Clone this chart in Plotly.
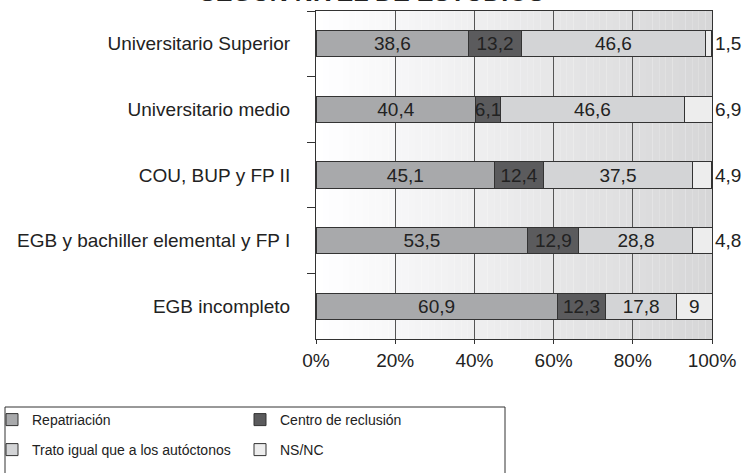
import plotly.graph_objects as go

categories = ["Universitario Superior", "Universitario medio", "COU, BUP y FP II",
              "EGB y bachiller elemental y FP I", "EGB incompleto"]
repatriacion = [38.6, 40.4, 45.1, 53.5, 60.9]
centro = [13.2, 6.1, 12.4, 12.9, 12.3]
trato = [46.6, 46.6, 37.5, 28.8, 17.8]
nsnc = [1.5, 6.9, 4.9, 4.8, 9]
x_ticks = [0, 20, 40, 60, 80, 100]
x_ticklabels = ["0%", "20%", "40%", "60%", "80%", "100%"]
title_text = "SEGÚN NIVEL DE ESTUDIOS"

FONT = "Liberation Sans, Arial, sans-serif"
TXT = "#222222"
FS = 19


def fmt(v):
    return f"{v:g}".replace(".", ",")


series = [
    ("Repatriación", repatriacion, "#a8a9ab", "legend"),
    ("Centro de reclusión", centro, "#5b5b5d", "legend"),
    ("Trato igual que a los autóctonos", trato, "#d3d4d6", "legend2"),
    ("NS/NC", nsnc, "#ededed", "legend2"),
]

fig = go.Figure()
for name, vals, color, leg in series:
    if name == "NS/NC":
        texts = [fmt(v) if v >= 8 else "" for v in vals]
    else:
        texts = [fmt(v) for v in vals]
    fig.add_trace(go.Bar(
        name=name, y=categories, x=vals, orientation="h",
        marker=dict(color=color, line=dict(color="#333333", width=1)),
        text=texts, textposition="inside", insidetextanchor="middle",
        textangle=0, textfont=dict(family=FONT, size=FS, color=TXT),
        legend=leg, hoverinfo="skip",
    ))

# outside labels for small NS/NC values
for cat, v in zip(categories, nsnc):
    if v < 8:
        fig.add_annotation(x=100, y=cat, xref="x", yref="y", text=fmt(v),
                           showarrow=False, xanchor="left", xshift=1,
                           font=dict(family=FONT, size=FS, color=TXT))

# gradient background strips
n = 60
for i in range(n):
    t = (i + 0.5) / n
    c = int(round(255 - t * (255 - 214)))
    fig.add_shape(type="rect", xref="x", yref="paper",
                  x0=100 * i / n, x1=100 * (i + 1) / n, y0=0, y1=1,
                  fillcolor=f"rgb({c},{c},{min(c + 1, 255)})",
                  line=dict(width=0), layer="below")

# legend frame
fig.add_shape(type="rect", xref="paper", yref="paper",
              x0=(5 - 316) / 396, x1=(505 - 316) / 396,
              y0=(339 - 490) / 328, y1=(339 - 407) / 328,
              line=dict(color="#333333", width=1), fillcolor="white", layer="below")

fig.add_annotation(text=f"<b>{title_text}</b>", xref="paper", yref="paper",
                   x=(371 - 316) / 396, y=1.0, xanchor="center", yanchor="bottom",
                   yshift=3,
                   showarrow=False, font=dict(family=FONT, size=25, color=TXT))

legend_common = dict(orientation="h", xanchor="left", yanchor="top",
                     bgcolor="rgba(0,0,0,0)", borderwidth=0,
                     font=dict(family=FONT, size=14, color=TXT),
                     entrywidth=203, entrywidthmode="pixels", traceorder="normal")

fig.update_layout(
    width=749, height=473,
    margin=dict(l=316, r=37, t=11, b=134, autoexpand=False),
    barmode="stack", bargap=0.6,
    plot_bgcolor="white", paper_bgcolor="white",
    showlegend=True,
    legend=dict(x=(-8 - 316) / 396, y=(339 - 404) / 328, **legend_common),
    legend2=dict(x=(-8 - 316) / 396, y=(339 - 434) / 328, **legend_common),
    uniformtext=dict(minsize=FS, mode="show"),
    font=dict(family=FONT, color=TXT),
)
fig.update_xaxes(range=[0, 100], tickvals=x_ticks, ticktext=x_ticklabels,
                 showgrid=True, gridcolor="#555555", gridwidth=1,
                 showline=True, linecolor="#333333", linewidth=1, mirror=True,
                 ticks="outside", ticklen=4, tickcolor="#333333",
                 tickfont=dict(family=FONT, size=FS, color=TXT), zeroline=False,
                 fixedrange=True, automargin=False)
fig.update_yaxes(categoryorder="array", categoryarray=categories, autorange="reversed",
                 showgrid=False, showline=True, linecolor="#333333", linewidth=1,
                 mirror=True, ticks="outside", tickson="boundaries", ticklen=8,
                 tickcolor="#333333", ticklabelstandoff=21,
                 tickfont=dict(family=FONT, size=FS, color=TXT), fixedrange=True,
                 automargin=False)

fig.write_html("out.html", config={"displayModeBar": False},
               post_script="document.body.style.margin='0px';")
